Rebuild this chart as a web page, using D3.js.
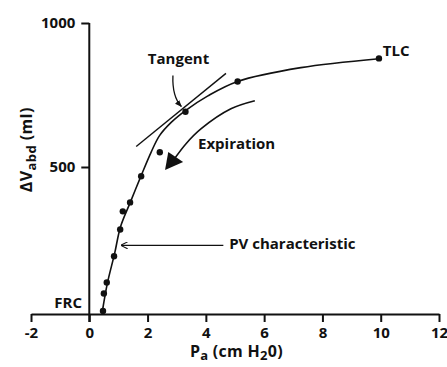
<!DOCTYPE html>
<html>
<head>
<meta charset="utf-8">
<script src="https://cdn.jsdelivr.net/npm/d3@7"></script>
<style>
  body { margin: 0; background: #fff; }
  svg { display: block; }
  text { font-family: "Open Sans", sans-serif; font-weight: bold; fill: #111; }
</style>
</head>
<body>
<div id="chart"></div>
<script>
// measured points (Pa in cm H2O, dV in ml)
const pointsX = [0.47, 0.5, 0.6, 0.85, 1.06, 1.15, 1.4, 1.78, 2.42, 3.3, 5.09, 9.94]
const pointsY = [0, 61, 99, 190, 283, 346, 377, 468, 551, 692, 797, 877]

// hand drawn PV characteristic
const curveX = [0.45, 0.62, 0.87, 1.07, 1.41, 1.78, 2.12, 2.41, 2.81, 3.3, 4.07, 5.09, 7.26, 9.94]
const curveY = [0, 96, 200, 292, 378, 470, 551, 609, 655, 696, 747, 797, 845, 876]

// tangent line end points
const tangentX = [1.61, 4.69]
const tangentY = [571, 825]

// expiration arrow
const expX = [5.68, 4.86, 3.84, 3.32, 2.94]
const expY = [730, 702, 633, 581, 531]
const expHeadX = [2.71, 3.22, 2.6]
const expHeadY = [552, 517, 490]

const xTicks = [-2, 0, 2, 4, 6, 8, 10, 12]
const yTicks = [500, 1000]

const width = 447
const height = 367

const svg = d3.select('#chart')
    .append('svg')
    .attr('width', width)
    .attr('height', height)

const x = d3.scaleLinear().domain([-2, 12]).range([31, 439])
const y = d3.scaleLinear().domain([0, 1000]).range([311, 23])
const axisY = y(0) + 3
const fmt = (d) => String(d)

// x axis
const xAxis = svg.append('g')
    .attr('transform', `translate(0, ${axisY})`)
    .call(d3.axisBottom(x).tickValues(xTicks).tickFormat(fmt).tickSize(8).tickSizeOuter(0).tickPadding(5))
xAxis.select('.domain').attr('stroke', '#111').attr('stroke-width', 2)
xAxis.selectAll('.tick line').attr('stroke', '#111').attr('stroke-width', 2)
xAxis.selectAll('.tick text')
    .style('font-size', '15px')
    .style('font-family', '"Open Sans", sans-serif')
    .style('font-weight', 'bold')
    .attr('fill', '#111')

// y axis
const yAxis = svg.append('g')
    .attr('transform', `translate(${x(0)}, 0)`)
    .call(d3.axisLeft(y).tickValues(yTicks).tickFormat(fmt).tickSize(8).tickSizeOuter(0).tickPadding(6))
yAxis.select('.domain').remove()
yAxis.selectAll('.tick line').attr('stroke', '#111').attr('stroke-width', 2)
yAxis.selectAll('.tick text')
    .style('font-size', '15px')
    .style('font-family', '"Open Sans", sans-serif')
    .style('font-weight', 'bold')
    .attr('fill', '#111')
svg.append('line')
    .attr('x1', x(0)).attr('x2', x(0))
    .attr('y1', y(1000)).attr('y2', axisY + 8)
    .attr('stroke', '#111').attr('stroke-width', 2)

// axis titles
const yTitle = svg.append('text')
    .attr('transform', `translate(32, ${y(560)}) rotate(-90)`)
    .attr('text-anchor', 'middle')
    .style('font-size', '16px')
    .style('letter-spacing', '0.4px')
yTitle.append('tspan').text('ΔV')
yTitle.append('tspan').attr('dy', 4).style('font-size', '13px').text('abd')
yTitle.append('tspan').attr('dy', -4).text(' (ml)')

const xTitle = svg.append('text')
    .attr('x', x(5.05))
    .attr('y', 357)
    .attr('text-anchor', 'middle')
    .style('font-size', '16px')
    .style('letter-spacing', '0.3px')
xTitle.append('tspan').text('P')
xTitle.append('tspan').attr('dy', 3).style('font-size', '13px').text('a')
xTitle.append('tspan').attr('dy', -3).text(' (cm H')
xTitle.append('tspan').attr('dy', 3).style('font-size', '13px').text('2')
xTitle.append('tspan').attr('dy', -3).text('0)')

// PV curve
const curveData = curveX.map((d, i) => [d, curveY[i]])
const line = d3.line()
    .x((d) => x(d[0]))
    .y((d) => y(d[1]))
    .curve(d3.curveCatmullRom)

svg.append('path')
    .datum(curveData)
    .attr('d', line)
    .attr('fill', 'none')
    .attr('stroke', '#111')
    .attr('stroke-width', 1.6)

// tangent
svg.append('path')
    .datum(tangentX.map((d, i) => [d, tangentY[i]]))
    .attr('d', d3.line().x((d) => x(d[0])).y((d) => y(d[1])))
    .attr('fill', 'none')
    .attr('stroke', '#111')
    .attr('stroke-width', 1.4)

// expiration arrow
svg.append('path')
    .datum(expX.map((d, i) => [d, expY[i]]))
    .attr('d', line)
    .attr('fill', 'none')
    .attr('stroke', '#111')
    .attr('stroke-width', 1.6)
svg.append('path')
    .datum(expHeadX.map((d, i) => [d, expHeadY[i]]))
    .attr('d', (d) => d3.line().x((p) => x(p[0])).y((p) => y(p[1]))(d) + 'Z')
    .attr('fill', '#111')

// points
svg.selectAll('circle.pt')
    .data(pointsX.map((d, i) => [d, pointsY[i]]))
    .enter()
    .append('circle')
    .attr('class', 'pt')
    .attr('cx', (d) => x(d[0]))
    .attr('cy', (d) => y(d[1]))
    .attr('r', 3.2)
    .attr('fill', '#111')

// arrow markers
const defs = svg.append('defs')
defs.append('marker')
    .attr('id', 'head')
    .attr('viewBox', '0 0 10 10')
    .attr('refX', 9).attr('refY', 5)
    .attr('markerWidth', 7).attr('markerHeight', 7)
    .attr('markerUnits', 'userSpaceOnUse')
    .attr('orient', 'auto')
    .append('path')
    .attr('d', 'M0,0 L10,5 L0,10')
    .attr('fill', 'none')
    .attr('stroke', '#111')
    .attr('stroke-width', 1.5)
defs.append('marker')
    .attr('id', 'solid')
    .attr('viewBox', '0 0 10 10')
    .attr('refX', 9).attr('refY', 5)
    .attr('markerWidth', 7).attr('markerHeight', 7)
    .attr('markerUnits', 'userSpaceOnUse')
    .attr('orient', 'auto')
    .append('path')
    .attr('d', 'M0,1 L10,5 L0,9 Z')
    .attr('fill', '#111')

// tangent pointer
svg.append('path')
    .attr('d', `M${x(2.87)},${y(818)} Q${x(2.84)},${y(745)} ${x(3.16)},${y(710)}`)
    .attr('fill', 'none')
    .attr('stroke', '#111')
    .attr('stroke-width', 1.3)
    .attr('marker-end', 'url(#solid)')

// PV pointer
svg.append('line')
    .attr('x1', x(4.6)).attr('y1', y(228))
    .attr('x2', x(1.1)).attr('y2', y(228))
    .attr('stroke', '#111')
    .attr('stroke-width', 1.3)
    .attr('marker-end', 'url(#head)')

// labels
const labels = [
    {text: 'Tangent', x: 2.01, y: 858, anchor: 'start'},
    {text: 'Expiration', x: 3.73, y: 564, anchor: 'start'},
    {text: 'PV characteristic', x: 4.8, y: 215, anchor: 'start'},
    {text: 'TLC', x: 10.07, y: 884, anchor: 'start'},
    {text: 'FRC', x: -0.25, y: 10, anchor: 'end'}
]
svg.selectAll('text.lbl')
    .data(labels)
    .enter()
    .append('text')
    .attr('class', 'lbl')
    .attr('x', (d) => x(d.x))
    .attr('y', (d) => y(d.y))
    .attr('text-anchor', (d) => d.anchor)
    .style('font-size', '15px')
    .text((d) => d.text)
</script>
</body>
</html>
